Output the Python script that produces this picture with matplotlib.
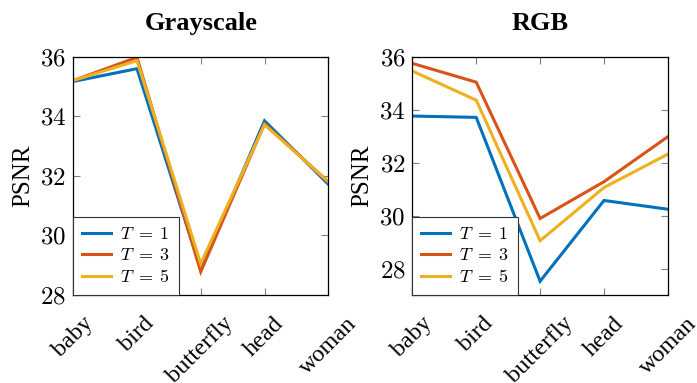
import matplotlib
matplotlib.use("Agg")
import matplotlib.pyplot as plt

categories = ["baby", "bird", "butterfly", "head", "woman"]
series_labels = [r"$T\;=\;1$", r"$T\;=\;3$", r"$T\;=\;5$"]
gray_t1 = [35.17, 35.6, 28.85, 33.85, 31.72]
gray_t3 = [35.2, 35.98, 28.78, 33.75, 31.8]
gray_t5 = [35.2, 35.87, 29.05, 33.72, 31.8]
rgb_t1 = [33.76, 33.71, 27.52, 30.57, 30.24]
rgb_t3 = [35.75, 35.04, 29.89, 31.28, 32.98]
rgb_t5 = [35.46, 34.36, 29.05, 31.06, 32.32]
yticks = [28, 30, 32, 34, 36]

colors = ["#0072BD", "#D95319", "#EDB120"]

plt.rcParams["font.family"] = ["Liberation Serif", "DejaVu Serif"]
plt.rcParams["mathtext.fontset"] = "cm"

fig = plt.figure(figsize=(6.97, 3.83), dpi=100)
ax1 = fig.add_axes([0.105, 0.2298, 0.366, 0.622])
ax2 = fig.add_axes([0.5916, 0.2298, 0.3666, 0.622])

x = list(range(len(categories)))
for ax, data, title, ylim in [
    (ax1, [gray_t1, gray_t3, gray_t5], "Grayscale", (28, 36)),
    (ax2, [rgb_t1, rgb_t3, rgb_t5], "RGB", (27, 36)),
]:
    for vals, c, lab in zip(data, colors, series_labels):
        ax.plot(x, vals, color=c, lw=2.2, label=lab, solid_joinstyle="miter")
    ax.set_xlim(0, len(categories) - 1)
    ax.set_ylim(*ylim)
    ax.set_yticks(yticks)
    ax.set_yticklabels([f"${v}$" for v in yticks], fontsize=18)
    ax.set_xticks(x)
    ax.set_xticklabels(categories, rotation=45, ha="center", fontsize=17.5)
    ax.tick_params(direction="in", top=True, right=True, length=5, width=0.8,
                   color="#808080", pad=5)
    ax.tick_params(axis="x", pad=13)
    ax.set_ylabel("PSNR", fontsize=18, labelpad=4)
    ax.set_title(title, fontsize=19, fontweight="bold", pad=19)
    for s in ax.spines.values():
        s.set_linewidth(0.9)
    leg = ax.legend(loc="lower left", fontsize=13, fancybox=False, framealpha=1,
                    edgecolor="#333333", borderaxespad=0, handlelength=1.6,
                    labelspacing=0.25, borderpad=0.5, handletextpad=0.5)
    leg.get_frame().set_linewidth(0.8)

fig.savefig("out.png", dpi=100)
